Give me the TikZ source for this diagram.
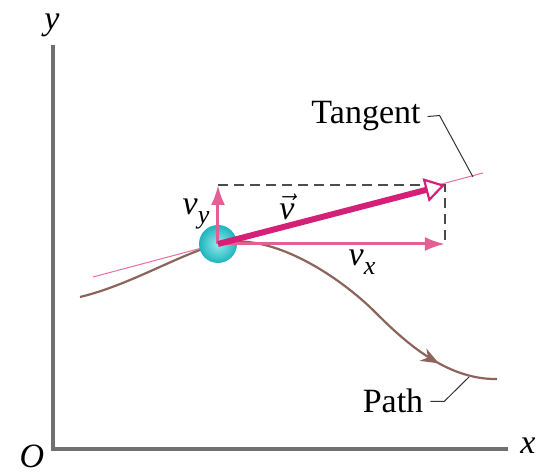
\documentclass[tikz,border=0pt]{standalone}
\usepackage{fontspec}
\setmainfont{Liberation Serif}
\usepackage{tikz}
\usetikzlibrary{arrows.meta,decorations.markings}

\definecolor{axisgray}{RGB}{112,112,112}
\definecolor{pathbrown}{RGB}{140,100,92}
\definecolor{velpink}{RGB}{214,32,120}
\definecolor{comppink}{RGB}{226,96,150}
\definecolor{tanpink}{RGB}{232,110,160}
\definecolor{ballcyan}{RGB}{30,180,190}
\definecolor{balllight}{RGB}{150,235,235}

\begin{document}
\begin{tikzpicture}[
    x=0.5pt, y=-0.5pt,
    every node/.style={font=\fontsize{17}{20}\selectfont},
    axis/.style={draw=axisgray, line width=1.6pt},
    trail/.style={draw=pathbrown, line width=1.1pt,
                  decoration={markings,
                    mark=at position 0.87 with {\arrow{Stealth[length=9pt,width=7pt]}}},
                  postaction={decorate}},
    tang/.style={draw=tanpink, line width=0.5pt},
    ballnode/.style={circle, minimum size=19pt, inner sep=0pt,
                     shading=radial, inner color=balllight, outer color=ballcyan},
    comp/.style={draw=comppink, line width=1.5pt,
                 -{Latex[length=10pt,width=7pt]}},
    vel/.style={draw=velpink, line width=3pt,
                -{Triangle[open,fill=white,length=10pt,width=12pt,line width=1.1pt]}},
    dashline/.style={draw=black!70, line width=0.8pt, dash pattern=on 5pt off 3pt},
    lead/.style={draw=black!80, line width=0.5pt}
]
\useasboundingbox (0,0) rectangle (548,475);

% axes
\coordinate (O)    at (53,449);
\coordinate (ytop) at (53,45);
\coordinate (xend) at (508,449);
\draw[axis] (ytop) -- (O) -- (xend);
\node (ylbl) at (52,25)  {\textit{y}};
\node (xlbl) at (528,446) {\textit{x}};
\node (olbl) at (32,456) {\textit{O}};

% path and tangent
\coordinate (B)  at (218,244);
\coordinate (p0) at (80,297);
\coordinate (p1) at (375,312);
\coordinate (p2) at (497,379);
\coordinate (t0) at (93,277);
\coordinate (t1) at (483,173);
\draw[trail] (p0) .. controls (130,285) and (178,255) .. (B)
                  .. controls (270,230) and (340,277) .. (p1)
                  .. controls (402,339) and (445,380) .. (p2);
\draw[tang] (t0) -- (t1);

\node[ballnode] (ball) at (B) {};

% velocity and components
\coordinate (vxtip) at (445,244);
\coordinate (vytip) at (218,185);
\coordinate (vtip)  at (445,185);
\draw[dashline] (vytip) -- (vtip) -- (vxtip);
\draw[comp] (ball.center) -- (vxtip);
\draw[comp] (ball.center) -- (vytip);
\draw[vel]  (ball.center) -- (vtip);

\node (vylbl) at (196,214) {\textit{v}\raisebox{-0.55ex}{\fontsize{13}{13}\selectfont\textit{y}}};
\node (vlbl)  at (287,207) {$\vec{\textit{v}}$};
\node (vxlbl) at (362,262) {\textit{v}\raisebox{-0.55ex}{\fontsize{13}{13}\selectfont\textit{x}}};

% labels with leaders
\coordinate (tanpt)  at (473,177);
\coordinate (pathpt) at (469,377);
\node[anchor=base] (tan)   at (366,124) {Tangent};
\node[anchor=base] (plbl)  at (393,413) {Path};
\draw[lead] (tan.east) -- ++(12,-1) -- (tanpt);
\draw[lead] (plbl.east) -- ++(14,0) -- (pathpt);
\end{tikzpicture}
\end{document}
